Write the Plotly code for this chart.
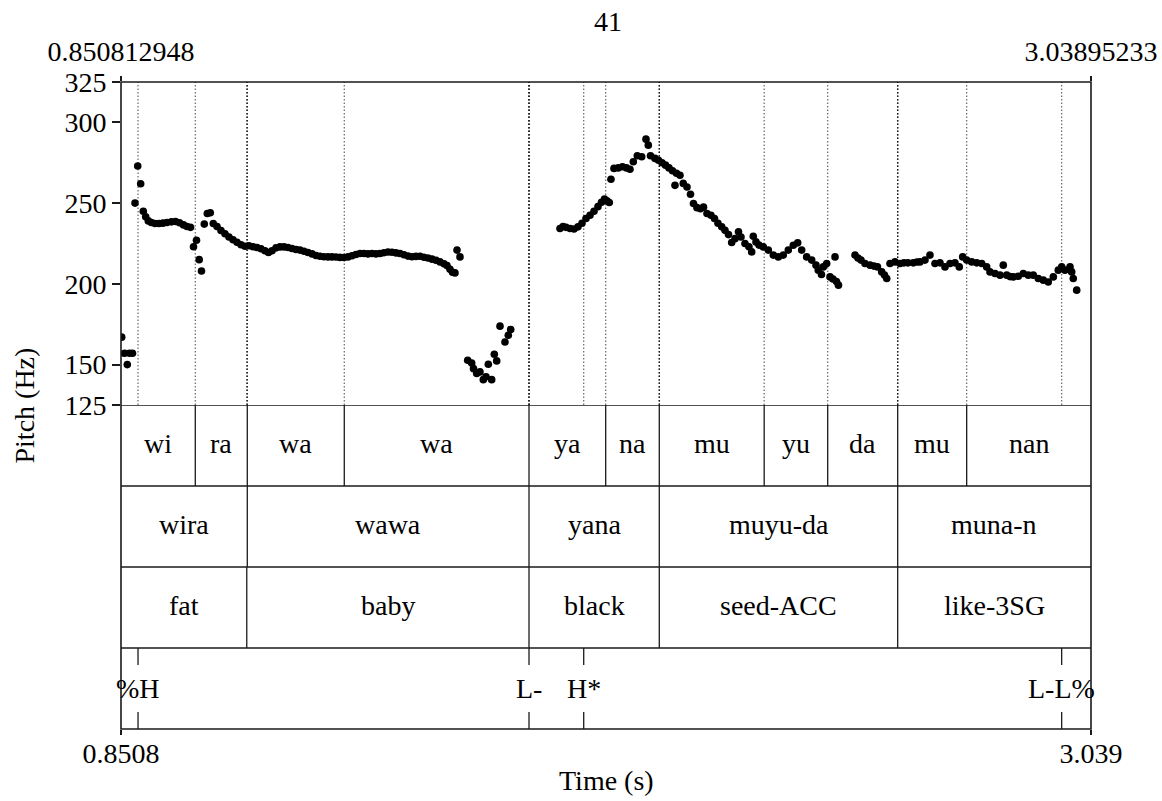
import plotly.graph_objects as go

# ---- time range of the excerpt (s) ----
T_START = 0.850812948
T_END = 3.03895233
FIG_NUMBER = "41"

# ---- F0 track (s, Hz), one pair of lists per voiced stretch ----
t_a = [0.8524, 0.8587, 0.8650, 0.8700, 0.8767]
f_a = [167, 157, 150, 157, 157]

t_b = [0.8824, 0.8885, 0.8952, 0.9011, 0.9065, 0.9124, 0.9192, 0.9275, 0.9365,
       0.9455, 0.9546, 0.9647, 0.9737, 0.9828, 0.9918, 0.9997, 1.0076, 1.0144,
       1.0211, 1.0272, 1.0324]
f_b = [250, 273, 262, 245, 241.5, 239, 238, 237.4, 237.4,
       237.6, 238, 238.4, 238.6, 237.8, 236.5, 235.5, 235, 223,
       227, 215, 208]

t_c = [1.0387, 1.0455, 1.0522, 1.0590, 1.0674, 1.0764, 1.0854, 1.0944, 1.1035,
       1.1125, 1.1215, 1.1305, 1.1395, 1.1486, 1.1576, 1.1666, 1.1756, 1.1835,
       1.1914, 1.2005, 1.2095, 1.2185, 1.2275, 1.2365, 1.2456, 1.2546, 1.2636,
       1.2726, 1.2817, 1.2907, 1.2997, 1.3087, 1.3178, 1.3268, 1.3358, 1.3448,
       1.3538, 1.3629, 1.3719, 1.3809, 1.3899, 1.3990, 1.4080, 1.4170, 1.4260,
       1.4351, 1.4441, 1.4531, 1.4621, 1.4712, 1.4802, 1.4892, 1.4982, 1.5072,
       1.5163, 1.5253, 1.5343, 1.5433, 1.5524, 1.5614, 1.5704, 1.5794, 1.5862,
       1.5930, 1.5986, 1.6042, 1.6088, 1.6155]
f_c = [237, 243.6, 244, 237.4, 235.5, 233, 231, 229, 227.3,
       225.8, 224.2, 223.3, 223.6, 223, 222.5, 221.7, 220.5, 219.4,
       220.5, 222.3, 222.9, 222.9, 222.5, 221.9, 221.3, 220.9, 220.2,
       219.4, 218.6, 217.6, 217.1, 216.8, 216.7, 216.7, 216.6, 216.4,
       216.3, 216.7, 217.4, 218.2, 218.8, 218.8, 218.6, 218.8, 218.6,
       218.8, 219.3, 219.7, 219.6, 219.2, 218.8, 218, 217.2, 216.8,
       217, 217.1, 216.5, 216, 215.3, 214.6, 213.6, 212.5, 211.3,
       209, 207.2, 206.8, 220.9, 216.7]

t_d = [1.6329, 1.6419, 1.6460, 1.6532, 1.6606, 1.6681, 1.6742, 1.6794, 1.6870,
       1.6929, 1.6983, 1.7058, 1.7170, 1.7245, 1.7299]
f_d = [152.7, 151, 147.5, 144.5, 145.5, 140.7, 142.5, 150.2, 140.7,
       156.4, 152.3, 173.8, 164, 168.2, 171.7]

t_e = [1.8411, 1.8479, 1.8546, 1.8637, 1.8727, 1.8817, 1.8907, 1.8998, 1.9088,
       1.9178, 1.9268, 1.9347, 1.9415, 1.9471, 1.9523, 1.9561, 1.9629, 1.9726,
       1.9821, 1.9911, 1.9990, 2.0065, 2.0155, 2.0254, 2.0351, 2.0403, 2.0453,
       2.0554, 2.0633, 2.0712, 2.0791, 2.0870, 2.0949, 2.1005, 2.1039, 2.1118,
       2.1192, 2.1276, 2.1355, 2.1422, 2.1501, 2.1580, 2.1648, 2.1727, 2.1817,
       2.1896, 2.1975, 2.2059, 2.2133, 2.2212, 2.2284, 2.2359, 2.2438, 2.2494,
       2.2584, 2.2674, 2.2735, 2.2771, 2.2832, 2.2900, 2.2997, 2.3110, 2.3223,
       2.3336, 2.3448, 2.3561, 2.3674, 2.3773, 2.3863, 2.3976, 2.4089, 2.4186,
       2.4238, 2.4310, 2.4351, 2.4427, 2.4502, 2.4569, 2.4615, 2.4648, 2.4693]
f_e = [234.3, 235.5, 235, 234.3, 234, 235.3, 237.5, 240.5, 242.5,
       245, 247.8, 250.5, 252.5, 251.5, 250.4, 264.8, 271.5, 271.8,
       272.5, 271.8, 271, 275.6, 279.3, 278.7, 289.6, 285.9, 279.3,
       277.7, 276.5, 275, 273.5, 271.8, 270, 261, 268.5, 267.3,
       262.2, 260, 255.5, 249.8, 247.2, 246.5, 247.5, 243.6, 242.5,
       240.5, 237.5, 235.3, 233.2, 230.5, 225.6, 228, 232.2, 229,
       225, 223, 219.8, 229.5, 226, 224, 222.9, 220.9, 217.8,
       216.7, 217.8, 220.9, 223.9, 225.4, 220.9, 216.7, 214.7, 211.6,
       208.5, 205.8, 210.5, 212.6, 204.3, 203, 216.7, 201.5, 199.2]

t_f = [2.5066, 2.5133, 2.5201, 2.5291, 2.5404, 2.5494, 2.5573, 2.5668, 2.5731,
       2.5781, 2.5855, 2.5968, 2.6081, 2.6171, 2.6261, 2.6381, 2.6464, 2.6532,
       2.6645, 2.6757, 2.6870, 2.6983, 2.7096, 2.7209, 2.7321, 2.7418, 2.7495,
       2.7585, 2.7698, 2.7811, 2.7924, 2.8036, 2.8111, 2.8224, 2.8337, 2.8411,
       2.8488, 2.8562, 2.8637, 2.8749, 2.8862, 2.8975, 2.9088, 2.9201, 2.9313,
       2.9426, 2.9539, 2.9652, 2.9728, 2.9803, 2.9916, 2.9954, 2.9990, 3.0067]
f_f = [217.8, 216, 214.7, 212.6, 211.6, 211, 210.5, 207.4, 205.5,
       203.3, 212.6, 213.6, 212.6, 213, 213, 213, 213.5, 213.6,
       214.7, 217.8, 212.6, 213, 210.5, 212.6, 213, 210.5, 216.7,
       214.7, 213.6, 213, 212.6, 210.5, 207.4, 206.4, 205.4, 211.6,
       205.4, 204.5, 204.3, 204.7, 206.4, 205.4, 205.4, 203.3, 202.3,
       201.2, 204.3, 208.5, 210.5, 208.5, 210.5, 207.4, 203.3, 196.1]

# ---- TextGrid tiers ----
syl_edges = [T_START, 1.0184, 1.1357, 1.3545, 1.7712, 1.9442, 2.0651,
             2.3017, 2.4450, 2.6029, 2.7585, T_END]
syl_labels = ["wi", "ra", "wa", "wa", "ya", "na", "mu", "yu", "da", "mu", "nan"]

word_edges = [T_START, 1.1357, 1.7712, 2.0651, 2.6029, T_END]
word_labels = ["wira", "wawa", "yana", "muyu-da", "muna-n"]

gloss_edges = [T_START, 1.1345, 1.7712, 2.0651, 2.6029, T_END]
gloss_labels = ["fat", "baby", "black", "seed-ACC", "like-3SG"]

tone_times = [0.8892, 1.7712, 1.8946, 2.9728]
tone_labels = ["%H", "L-", "H*", "L-L%"]

# ---- y axis of the pitch panel ----
f0_ticks = [125, 150, 200, 250, 300, 325]
F0_MIN, F0_MAX = 125, 325

# ---------------------------------------------------------------------------
FONT = "Liberation Serif, Times New Roman, serif"
FS = 28
INK = "#1a1a1a"
W, H = 1162, 801
ML, MR, MT, MB = 121, 71, 82, 72
N_TIERS = 4
split = 0.5008  # fraction of the plot height taken by the tiers

times = t_a + t_b + t_c + t_d + t_e + t_f
f0 = f_a + f_b + f_c + f_d + f_e + f_f

fig = go.Figure()
fig.add_trace(go.Scatter(
    x=times, y=f0, mode="markers",
    marker=dict(color="black", size=7.6, line=dict(width=0)),
    xaxis="x", yaxis="y", hoverinfo="skip", showlegend=False,
))
# empty traces so the top time axis and the tier panel are laid out
fig.add_trace(go.Scatter(x=[T_START, T_END], y=[F0_MIN, F0_MIN], mode="markers",
                         marker=dict(opacity=0), xaxis="x2", yaxis="y",
                         hoverinfo="skip", showlegend=False))
fig.add_trace(go.Scatter(x=[T_START, T_END], y=[0, 0], mode="markers",
                         marker=dict(opacity=0), xaxis="x", yaxis="y2",
                         hoverinfo="skip", showlegend=False))

shapes = []
annotations = []

# tiers: (edges, labels) for interval tiers, listed top to bottom
interval_tiers = [(syl_edges, syl_labels), (word_edges, word_labels),
                  (gloss_edges, gloss_labels)]

dot_style = dict(color="rgba(0,0,0,0.6)", width=1.2, dash="1.5px,2px")
label_font = dict(family=FONT, size=FS, color="black")

for i, (edges, labels) in enumerate(interval_tiers):
    top = N_TIERS - i
    bot = top - 1
    for b in edges[1:-1]:
        shapes.append(dict(type="line", xref="x", yref="y2", x0=b, x1=b,
                           y0=bot, y1=top, line=dict(color=INK, width=1.3)))
        shapes.append(dict(type="line", xref="x", yref="y", x0=b, x1=b,
                           y0=F0_MIN, y1=F0_MAX, line=dot_style))
    for lab, a, b in zip(labels, edges[:-1], edges[1:]):
        annotations.append(dict(x=(a + b) / 2, y=(bot + top) / 2 + 0.03, xref="x", yref="y2",
                                text=lab, showarrow=False, font=label_font,
                                xanchor="center", yanchor="middle"))

# point tier (tones)
tick_frac = 0.21
for tt, lab in zip(tone_times, tone_labels):
    shapes.append(dict(type="line", xref="x", yref="y2", x0=tt, x1=tt,
                       y0=1 - tick_frac, y1=1, line=dict(color=INK, width=1.3)))
    shapes.append(dict(type="line", xref="x", yref="y2", x0=tt, x1=tt,
                       y0=0, y1=tick_frac, line=dict(color=INK, width=1.3)))
    shapes.append(dict(type="line", xref="x", yref="y", x0=tt, x1=tt,
                       y0=F0_MIN, y1=F0_MAX, line=dot_style))
    annotations.append(dict(x=tt, y=0.5, xref="x", yref="y2", text=lab,
                            showarrow=False, font=label_font,
                            xanchor="center", yanchor="middle"))

# horizontal tier separators
for k in range(1, N_TIERS + 1):
    shapes.append(dict(type="line", xref="paper", yref="y2", x0=0, x1=1,
                       y0=k, y1=k, line=dict(color=INK, width=1.6)))

# outer frame
shapes.append(dict(type="rect", xref="paper", yref="paper", x0=0, x1=1, y0=0, y1=1,
                   line=dict(color=INK, width=1.6)))

# titles
annotations.append(dict(x=0.5, y=-0.079, xref="paper", yref="paper", text="Time (s)",
                        showarrow=False, font=label_font,
                        xanchor="center", yanchor="middle"))
annotations.append(dict(x=-0.1, y=0.5, xref="paper", yref="paper", text="Pitch (Hz)",
                        showarrow=False, textangle=-90, font=label_font,
                        xanchor="center", yanchor="middle"))
annotations.append(dict(x=0.502, y=1.093, xref="paper", yref="paper", text=FIG_NUMBER,
                        showarrow=False, font=label_font,
                        xanchor="center", yanchor="middle"))

axis_font = dict(family=FONT, size=FS, color="black")

fig.update_layout(
    width=W, height=H,
    margin=dict(l=ML, r=MR, t=MT, b=MB, pad=0, autoexpand=False),
    paper_bgcolor="white", plot_bgcolor="white",
    showlegend=False,
    shapes=shapes, annotations=annotations,
    xaxis=dict(domain=[0, 1], range=[T_START, T_END], anchor="y2", side="bottom",
               tickmode="array", tickvals=[T_START, T_END],
               ticktext=[f"{T_START:.4f}", f"{T_END:.3f}"],
               ticks="outside", ticklen=5, tickwidth=1.5, tickcolor=INK,
               ticklabelstandoff=-6, automargin=False,
               tickfont=axis_font, showgrid=False, zeroline=False, showline=False,
               fixedrange=True),
    xaxis2=dict(overlaying="x", range=[T_START, T_END], anchor="y", side="top",
                tickmode="array", tickvals=[T_START, T_END],
                ticktext=[f"{T_START:.9f}", f"{T_END:.8f}"],
                ticks="outside", ticklen=5, tickwidth=1.5, tickcolor=INK,
                ticklabelstandoff=4, automargin=False,
                tickfont=axis_font, showgrid=False, zeroline=False, showline=False,
                fixedrange=True),
    yaxis=dict(domain=[split, 1], range=[F0_MIN, F0_MAX], anchor="x",
               tickmode="array", tickvals=f0_ticks,
               ticks="outside", ticklen=8, tickwidth=1.5, tickcolor=INK,
               automargin=False,
               tickfont=axis_font, showgrid=False, zeroline=False, showline=False,
               fixedrange=True),
    yaxis2=dict(domain=[0, split], range=[0, N_TIERS], anchor="x", visible=False,
                fixedrange=True),
)

fig.write_html("out.html")
